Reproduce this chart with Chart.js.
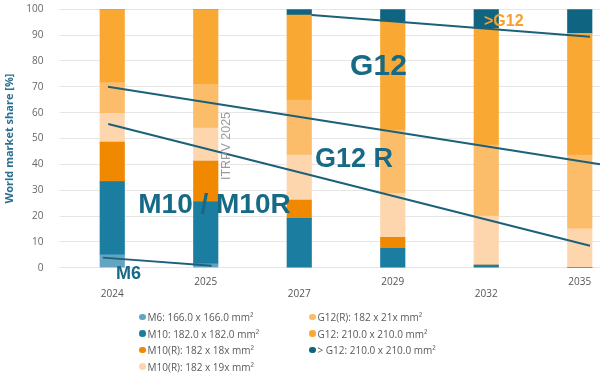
<!DOCTYPE html>
<html>
<head>
<meta charset="utf-8">
<script src="https://cdn.jsdelivr.net/npm/chart.js@4/dist/chart.umd.min.js"></script>
<style>
  html, body { margin: 0; padding: 0; background: #fff; overflow: hidden; width: 600px; height: 378px; }
  #wrap { position: relative; width: 640px; height: 378px; }
  #c { position: absolute; left: 0; top: 0; }
  #legend { position: absolute; left: 0; top: 0; width: 600px; height: 378px; font-family: 'Open Sans', sans-serif; font-size: 10px; color: #595959; }
  .item { position: absolute; display: flex; align-items: center; height: 16px; line-height: 16px; white-space: nowrap; }
  .dot { width: 6.5px; height: 6.5px; border-radius: 50%; margin-right: 2px; flex: none; }
</style>
</head>
<body>
<div id="wrap">
  <canvas id="c" width="640" height="305" style="width:640px;height:305px"></canvas>
  <div id="legend"></div>
</div>
<script>
// ---- data ----
const years = ['2024', '2025', '2027', '2029', '2032', '2035'];
const seriesNames = [
  'M6: 166.0 x 166.0 mm²',
  'M10: 182.0 x 182.0 mm²',
  'M10(R): 182 x 18x mm²',
  'M10(R): 182 x 19x mm²',
  'G12(R): 182 x 21x mm²',
  'G12: 210.0 x 210.0 mm²',
  '> G12: 210.0 x 210.0 mm²'
];
const m6      = [5.0, 1.5, 0, 0, 0, 0];
const m10     = [28.3, 24.0, 19.1, 7.5, 1.0, 0];
const m10r18  = [15.3, 15.8, 7.1, 4.3, 0, 0];
const m10r19  = [11.1, 12.7, 17.4, 17.0, 19.0, 15.0];
const g12r    = [11.9, 17.0, 21.3, 24.5, 27.5, 28.6];
const g12     = [28.4, 29.0, 32.9, 41.9, 45.1, 47.1];
const gtG12   = [0, 0, 2.2, 4.8, 7.4, 9.3];
const yTicks  = [0, 10, 20, 30, 40, 50, 60, 70, 80, 90, 100];

// trend lines: x in category-index units, y in %
const trendTop   = [{x: 2.131, y: 97.8}, {x: 5.11, y: 89.4}];
const trendG12R  = [{x: -0.046, y: 70.0}, {x: 5.216, y: 40.0}];
const trendM10   = [{x: -0.043, y: 55.6}, {x: 5.11, y: 8.5}];
const trendM6    = [{x: -0.1, y: 3.9}, {x: 1.063, y: 0.8}];

const noteTexts = ['G12', 'G12 R', 'M10 / M10R', 'M6', '>G12', 'ITRPV 2025'];

// ---- styling ----
const colors = ['#62a5c3', '#1b7d9f', '#f08900', '#fdd6ae', '#fcbd6b', '#f9a833', '#0f6482'];
const lineColor = '#1d6079';
const teal = '#176a86';

const seriesValues = [m6, m10, m10r18, m10r19, g12r, g12, gtG12];
const barSets = seriesValues.map((d, i) => ({
  type: 'bar', label: seriesNames[i], data: d, backgroundColor: colors[i],
  borderWidth: 0, barThickness: 24.5, grouped: false, xAxisID: 'x', yAxisID: 'y', stack: 'bars'
}));
const lineSets = [trendTop, trendG12R, trendM10, trendM6].map((d, i) => ({
  type: 'line', label: 'trend' + i, data: d, borderColor: lineColor, borderWidth: 2,
  pointRadius: 0, fill: false, xAxisID: 'xl', yAxisID: 'y', stack: 'line' + i, order: -1
}));

const notes = [
  {text: noteTexts[0], x: 2.544, y: 74.6, font: 'bold 30px "Liberation Sans", Arial, sans-serif', color: teal},
  {text: noteTexts[1], x: 2.168, y: 39.1, font: 'bold 27px "Liberation Sans", Arial, sans-serif', color: teal},
  {text: noteTexts[2], x: 0.278, y: 21.05, font: 'bold 28px "Liberation Sans", Arial, sans-serif', color: teal},
  {text: noteTexts[3], x: 0.040, y: -4.5, font: 'bold 18px "Liberation Sans", Arial, sans-serif', color: teal},
  {text: noteTexts[4], x: 3.976, y: 93.5, font: 'bold 16px "Liberation Sans", Arial, sans-serif', color: '#f5a02a'},
  {text: noteTexts[5], x: 1.221, y: 47.1, font: '12.5px "Liberation Sans", Arial, sans-serif', color: '#9a9a9a', rotate: -Math.PI / 2, align: 'center', baseline: 'middle'}
];

const notesPlugin = {
  id: 'notes',
  afterDatasetsDraw(chart) {
    const ctx = chart.ctx, xs = chart.scales.xl, ys = chart.scales.y;
    notes.forEach(n => {
      ctx.save();
      ctx.font = n.font; ctx.fillStyle = n.color;
      ctx.textAlign = n.align || 'left';
      ctx.textBaseline = n.baseline || 'alphabetic';
      ctx.translate(xs.getPixelForValue(n.x), ys.getPixelForValue(n.y));
      if (n.rotate) ctx.rotate(n.rotate);
      ctx.fillText(n.text, 0, 0);
      ctx.restore();
    });
  }
};

const chart = new Chart(document.getElementById('c'), {
  data: { labels: years, datasets: [...barSets, ...lineSets] },
  options: {
    responsive: false, animation: false, devicePixelRatio: 1,
    layout: { padding: { left: 0, right: 13.5, top: 9.3, bottom: 0 } },
    plugins: { legend: { display: false }, tooltip: { enabled: false } },
    scales: {
      x: {
        type: 'category', stacked: true, offset: true,
        grid: { display: false }, border: { display: false },
        ticks: {
          color: '#555', font: { family: 'Open Sans', size: 10 }, padding: 0,
          maxRotation: 0, autoSkip: false,
          callback: function (v, i) { const l = this.getLabelForValue(v); return i % 2 === 0 ? ['', l] : [l, '']; }
        },
        afterFit: s => { s.height = 37.3; }
      },
      xl: { type: 'linear', display: false, min: -0.5, max: 5.5 },
      y: {
        stacked: true, min: 0, max: 100,
        afterBuildTicks: s => { s.ticks = yTicks.map(v => ({ value: v })); },
        grid: { color: '#e6e6e6', tickLength: 6, drawTicks: true },
        border: { display: false },
        ticks: { color: '#666', font: { family: 'Open Sans', size: 10 }, padding: 16 },
        title: { display: true, text: 'World market share [%]', color: '#2a7090',
                 font: { family: 'Open Sans', size: 11, weight: 'bold' }, padding: { top: 3, bottom: 0 } },
        afterFit: s => { s.width = 65.5; s.paddingTop = 0; s.paddingBottom = 0; }
      }
    }
  },
  plugins: [notesPlugin]
});

// ---- HTML legend built from the chart's datasets ----
const legend = document.getElementById('legend');
const bars = chart.data.datasets.filter(d => d.type === 'bar');
const colLeft = [139, 309];
const rowTop = [309, 325.5, 342, 358.5];
bars.forEach((d, i) => {
  const c = i < 4 ? 0 : 1, r = i < 4 ? i : i - 4;
  const it = document.createElement('div'); it.className = 'item';
  it.style.left = colLeft[c] + 'px'; it.style.top = rowTop[r] + 'px';
  const dot = document.createElement('span'); dot.className = 'dot'; dot.style.background = d.backgroundColor;
  const tx = document.createElement('span'); tx.textContent = d.label;
  it.appendChild(dot); it.appendChild(tx); legend.appendChild(it);
});
</script>
</body>
</html>
